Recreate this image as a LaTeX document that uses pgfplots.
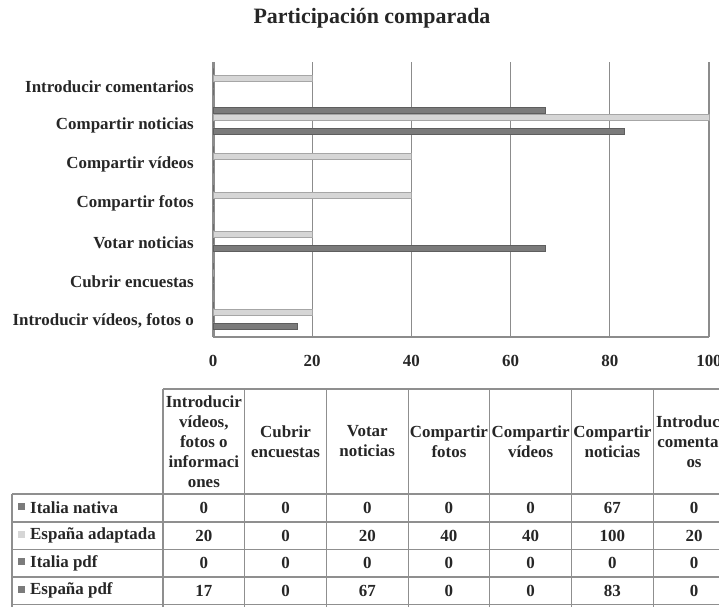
\documentclass[border=0pt]{standalone}
\usepackage{pgfplots}
\pgfplotsset{compat=1.18}
\usepackage{fontspec}
\setmainfont{Liberation Serif}
\definecolor{darkbar}{HTML}{7B7B7B}
\definecolor{darkedge}{HTML}{5E5E5E}
\definecolor{lightbar}{HTML}{D6D6D6}
\definecolor{lightedge}{HTML}{A6A6A6}
\definecolor{gridc}{HTML}{8C8C8C}
\definecolor{tablec}{HTML}{8F8F8F}
\definecolor{textc}{HTML}{262626}
\newcommand{\fs}{\bfseries\fontsize{17}{20}\selectfont}
\begin{document}
\begin{tikzpicture}[x=1bp,y=1bp]
\useasboundingbox (0,0) rectangle (719,607);
% title
\node[font=\bfseries\fontsize{22}{24}\selectfont, text=textc] at (372,589) {Participación comparada};
\begin{axis}[
  at={(213bp,270bp)}, anchor=south west,
  scale only axis, width=496bp, height=275bp,
  xbar, bar width=6bp,
  xmin=0, xmax=100, ymin=-0.55, ymax=6.51,
  xtick={0,20,40,60,80,100},
  ytick={0,1,2,3,4,5,6},
  yticklabels={{Introducir vídeos, fotos o}, {Cubrir encuestas}, {Votar noticias}, {Compartir fotos}, {Compartir vídeos}, {Compartir noticias}, {Introducir comentarios}},
  axis x line*=bottom, axis y line*=left,
  axis line style={-, draw=gridc, line width=1.2bp},
  y axis line style={line width=3bp, draw=black!45},
  major tick length=0pt,
  xmajorgrids, grid style={draw=gridc, line width=1.2bp},
  tick label style={font=\fs, text=textc},
  /pgf/number format/assume math mode=true,
  xticklabel style={inner sep=0pt, yshift=-18bp},
  yticklabel style={inner sep=0pt, xshift=-19bp, yshift=-5bp},
  clip=false,
]
\addplot[fill=darkbar, draw=darkedge, bar shift=10.5bp] coordinates {(0,0) (0,1) (0,2) (0,3) (0,4) (67,5) (0,6)};
\addplot[fill=lightbar, draw=lightedge, bar shift=3.5bp] coordinates {(20,0) (0,1) (20,2) (40,3) (40,4) (100,5) (20,6)};
\addplot[fill=darkbar, draw=darkedge, bar shift=-3.5bp] coordinates {(0,0) (0,1) (0,2) (0,3) (0,4) (0,5) (0,6)};
\addplot[fill=darkbar, draw=darkedge, bar shift=-10.5bp] coordinates {(17,0) (0,1) (67,2) (0,3) (0,4) (83,5) (0,6)};
\end{axis}
% data table
\def\cw{81.7}
\draw[tablec, line width=1.1bp] (163,218) -- (760,218);
\foreach \yy in {113,85,57.5,30,2.5} {\draw[tablec, line width=1.1bp] (12,\yy) -- (760,\yy);}
\draw[tablec, line width=1.1bp] (12,113) -- (12,0);
\foreach \i in {0,...,7} {\draw[tablec, line width=1.1bp] ({163+\cw*\i},218) -- ({163+\cw*\i},0);}
% header texts
\foreach \i/\t in {0/{Introducir\\vídeos,\\fotos o\\informaci\\ones}, 1/{Cubrir\\encuestas}, 2/{Votar\\noticias}, 3/{Compartir\\fotos}, 4/{Compartir\\vídeos}, 5/{Compartir\\noticias}, 6/{Introducir\\comentari\\os}}
  {\node[align=center, font=\fs, text=textc, inner sep=0pt] at ({163+\cw*(\i+0.5)},165.5) {\t};}
% row headers
\foreach \r/\name/\col in {0/Italia nativa/darkbar, 1/España adaptada/lightbar, 2/Italia pdf/darkbar, 3/España pdf/darkbar} {
  \pgfmathsetmacro{\yc}{99-27.5*\r}
  \fill[\col] (18,\yc-2.5) rectangle (25,\yc+4.5);
  \node[anchor=west, font=\fs, text=textc, inner sep=0pt] at (30,\yc) {\name};
}
% values
\foreach \r/\vals in {0/{0,0,0,0,0,67,0}, 1/{20,0,20,40,40,100,20}, 2/{0,0,0,0,0,0,0}, 3/{17,0,67,0,0,83,0}} {
  \pgfmathsetmacro{\yc}{99-27.5*\r}
  \foreach \v [count=\c from 0] in \vals {
    \node[font=\fs, text=textc, inner sep=0pt] at ({163+\cw*(\c+0.5)},\yc) {\v};
  }
}
\end{tikzpicture}
\end{document}
